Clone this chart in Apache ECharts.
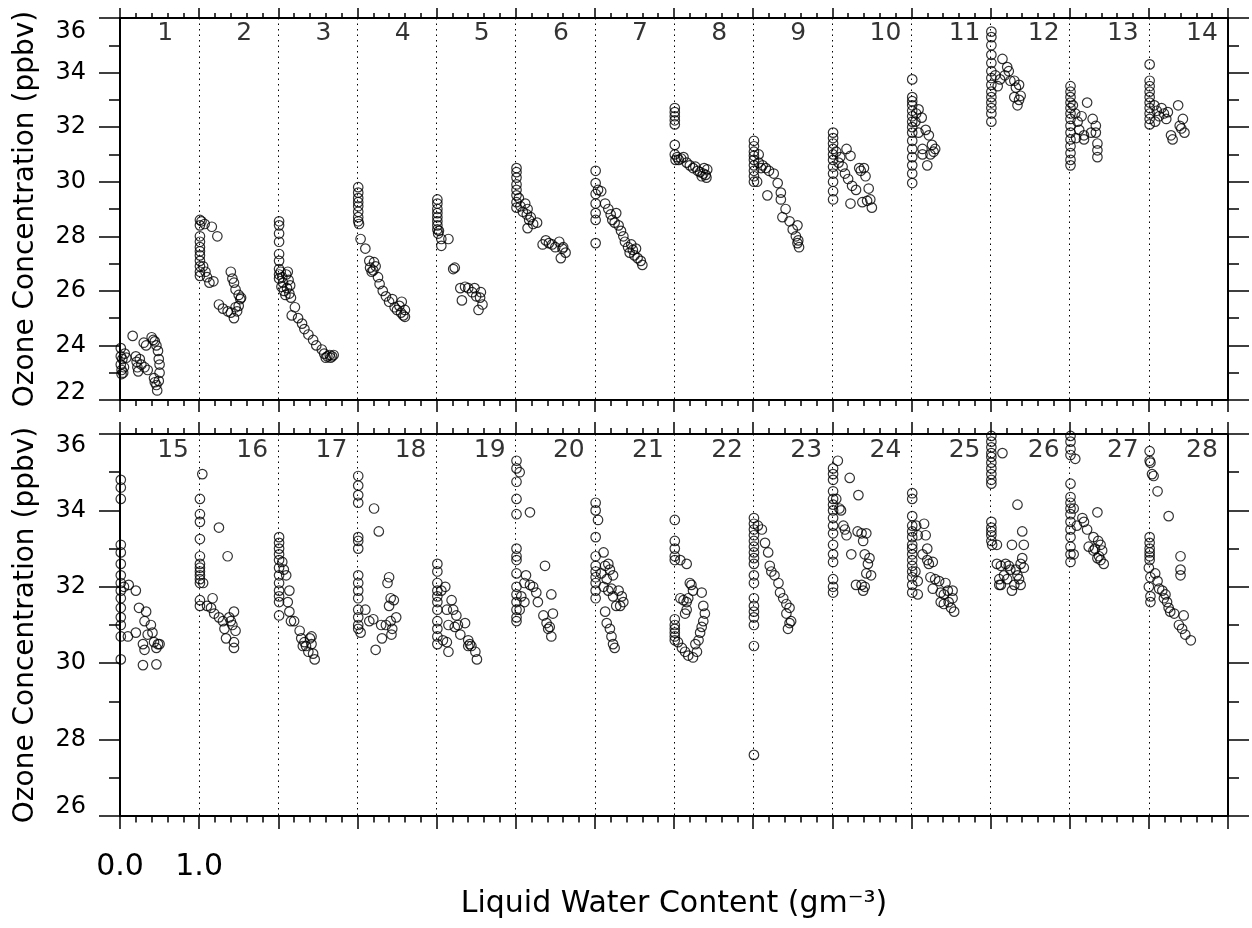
<!DOCTYPE html>
<html>
<head>
<meta charset="utf-8">
<script src="https://cdn.jsdelivr.net/npm/echarts@6.0.0/dist/echarts.min.js"></script>
<style>
  html, body { margin: 0; padding: 0; background: #fff; }
  #chart { width: 1252px; height: 928px; }
</style>
</head>
<body>
<div id="chart"></div>
<script>
// flight segment numbers shown at the top of each column
const topLabels = ['1', '2', '3', '4', '5', '6', '7', '8', '9', '10', '11', '12', '13', '14'];
const bottomLabels = ['15', '16', '17', '18', '19', '20', '21', '22', '23', '24', '25', '26', '27', '28'];

// y axis ranges (ppbv)
const topRange = [22, 36];
const bottomRange = [26, 36];

// each segment: [lwc offset in gm-3, ozone ppbv], one list per segment
const topSegments = [
  [[0.01,23.9],[0.01,23.6],[0.01,23.3],[0.02,23.1],[0.02,22.95],[0.04,23.0],[0.05,23.2],[0.03,23.5],[0.06,23.7],[0.08,23.55],
   [0.16,24.35],[0.2,23.6],[0.21,23.4],[0.22,23.2],[0.23,23.05],[0.25,23.5],[0.27,23.3],[0.3,24.1],[0.31,23.2],[0.33,24.0],
   [0.35,23.1],[0.4,24.3],[0.42,24.2],[0.44,24.15],[0.43,22.8],[0.44,22.65],[0.46,22.55],[0.47,22.35],[0.49,22.7],[0.5,23.0],
   [0.5,23.3],[0.49,23.5],[0.48,23.8],[0.46,24.0]],
  [[0.01,28.6],[0.01,28.4],[0.01,28.0],[0.01,27.8],[0.01,27.6],[0.01,27.45],[0.01,27.3],[0.01,27.1],[0.01,26.9],[0.01,26.7],
   [0.01,26.55],[0.03,28.55],[0.07,28.45],[0.16,28.35],[0.23,28.0],[0.05,26.9],[0.08,26.7],[0.1,26.5],[0.13,26.3],[0.18,26.35],
   [0.25,25.5],[0.3,25.35],[0.36,25.25],[0.4,25.2],[0.44,25.0],[0.4,26.7],[0.42,26.45],[0.44,26.3],[0.46,26.05],[0.5,25.85],
   [0.52,25.7],[0.5,25.45],[0.48,25.25],[0.46,25.4],[0.53,25.75]],
  [[0.01,28.55],[0.01,28.4],[0.01,28.1],[0.01,27.8],[0.01,27.35],[0.01,27.1],[0.01,26.8],[0.01,26.6],[0.01,26.45],
   [0.03,26.7],[0.05,26.5],[0.06,26.3],[0.04,26.15],[0.07,26.0],[0.09,25.85],[0.1,26.6],[0.12,26.7],[0.13,26.4],[0.11,26.1],
   [0.14,25.9],[0.16,25.75],[0.15,26.2],[0.21,25.4],[0.17,25.1],[0.25,25.0],[0.3,24.8],[0.33,24.6],[0.38,24.4],[0.44,24.2],
   [0.48,24.0],[0.55,23.85],[0.58,23.7],[0.62,23.6],[0.65,23.65],[0.68,23.6],[0.6,23.55],[0.7,23.65],[0.66,23.55]],
  [[0.01,29.8],[0.01,29.6],[0.01,29.4],[0.01,29.25],[0.01,29.1],[0.01,28.9],[0.01,28.7],[0.01,28.55],[0.02,28.45],
   [0.04,27.9],[0.1,27.55],[0.15,27.1],[0.21,27.05],[0.16,26.85],[0.18,26.7],[0.2,26.75],[0.23,26.9],[0.26,26.5],[0.28,26.25],
   [0.32,26.0],[0.36,25.8],[0.4,25.6],[0.44,25.7],[0.47,25.4],[0.5,25.3],[0.55,25.2],[0.58,25.1],[0.6,25.3],[0.56,25.6],
   [0.53,25.45],[0.6,25.05]],
  [[0.01,29.35],[0.01,29.2],[0.01,29.0],[0.01,28.85],[0.01,28.7],[0.01,28.55],[0.01,28.4],[0.01,28.25],[0.02,28.1],
   [0.06,27.9],[0.06,27.65],[0.15,27.9],[0.03,28.2],[0.23,26.85],[0.21,26.8],[0.3,26.1],[0.32,25.65],[0.36,26.15],[0.4,26.1],
   [0.45,25.95],[0.5,25.8],[0.55,25.75],[0.53,25.3],[0.58,25.5],[0.48,26.1],[0.56,25.95]],
  [[0.01,30.5],[0.01,30.35],[0.01,30.15],[0.01,29.9],[0.01,29.7],[0.01,29.5],[0.01,29.25],[0.01,29.05],
   [0.04,29.4],[0.06,29.1],[0.09,28.9],[0.12,29.2],[0.14,28.8],[0.15,29.0],[0.17,28.6],[0.19,28.7],[0.15,28.3],[0.22,28.45],
   [0.27,28.5],[0.34,27.7],[0.42,27.75],[0.5,27.6],[0.59,27.55],[0.57,27.2],[0.63,27.4],[0.38,27.85],[0.46,27.7],[0.55,27.8],
   [0.6,27.6]],
  [[0.01,30.4],[0.01,29.95],[0.01,29.55],[0.01,29.2],[0.01,28.85],[0.01,28.6],[0.01,27.75],
   [0.04,29.7],[0.08,29.65],[0.13,29.2],[0.17,29.0],[0.2,28.8],[0.22,28.6],[0.27,28.85],[0.3,28.4],[0.33,28.2],[0.36,28.0],
   [0.38,27.8],[0.42,27.6],[0.44,27.4],[0.48,27.5],[0.5,27.3],[0.54,27.2],[0.58,27.1],[0.6,26.95],[0.46,27.7],[0.52,27.55],
   [0.25,28.5]],
  [[0.01,32.7],[0.01,32.55],[0.01,32.4],[0.01,32.25],[0.01,32.1],[0.01,31.35],
   [0.01,31.0],[0.02,30.8],[0.04,30.9],[0.06,30.8],[0.09,30.85],[0.12,30.9],[0.16,30.7],[0.2,30.6],[0.24,30.5],[0.27,30.55],
   [0.3,30.4],[0.33,30.35],[0.37,30.3],[0.4,30.25],[0.42,30.45],[0.38,30.5],[0.35,30.2],[0.41,30.15]],
  [[0.01,31.5],[0.01,31.3],[0.01,31.1],[0.01,30.95],[0.01,30.8],[0.01,30.6],[0.01,30.4],[0.01,30.2],[0.01,30.0],
   [0.05,30.0],[0.07,31.0],[0.07,30.7],[0.1,30.5],[0.12,30.6],[0.16,30.5],[0.2,30.4],[0.26,30.3],[0.18,29.5],[0.31,29.95],
   [0.35,29.6],[0.35,29.35],[0.41,29.0],[0.37,28.7],[0.46,28.55],[0.5,28.25],[0.56,28.4],[0.54,28.0],[0.56,27.75],[0.58,27.6],
   [0.57,27.85]],
  [[0.01,31.8],[0.01,31.6],[0.01,31.4],[0.01,31.2],[0.01,31.0],[0.01,30.8],[0.01,30.55],[0.01,30.3],[0.01,30.0],[0.01,29.65],
   [0.01,29.35],[0.05,31.1],[0.08,30.7],[0.1,30.9],[0.13,30.55],[0.16,30.3],[0.18,31.2],[0.23,30.95],[0.2,30.1],[0.25,29.85],
   [0.23,29.2],[0.3,29.7],[0.34,30.5],[0.4,30.5],[0.42,30.2],[0.46,29.75],[0.38,29.25],[0.48,29.35],[0.5,29.05],[0.44,29.3],
   [0.36,30.4]],
  [[0.01,33.75],[0.01,33.1],[0.01,32.95],[0.01,32.8],[0.01,32.6],[0.01,32.4],[0.01,32.2],[0.01,32.0],[0.01,31.8],[0.01,31.5],
   [0.01,31.2],[0.01,30.9],[0.01,30.6],[0.01,30.3],[0.01,29.95],[0.09,32.65],[0.13,32.35],[0.18,31.9],[0.22,31.7],[0.26,31.35],
   [0.3,31.2],[0.14,31.2],[0.14,31.0],[0.2,30.6],[0.24,31.0],[0.28,31.1],[0.05,32.2],[0.06,32.5],[0.09,31.8]],
  [[0.01,35.5],[0.01,35.3],[0.01,35.0],[0.01,34.65],[0.01,34.35],[0.01,34.05],[0.01,33.8],[0.01,33.55],[0.01,33.3],[0.01,33.1],
   [0.01,32.9],[0.01,32.7],[0.01,32.5],[0.01,32.2],[0.06,33.9],[0.09,33.5],[0.15,34.5],[0.21,34.2],[0.23,34.05],[0.25,33.7],
   [0.3,33.7],[0.32,33.45],[0.36,33.55],[0.3,33.1],[0.36,33.0],[0.38,33.15],[0.34,32.8],[0.12,33.75],[0.18,33.9]],
  [[0.01,33.5],[0.01,33.3],[0.01,33.1],[0.01,32.9],[0.01,32.7],[0.01,32.5],[0.01,32.3],[0.01,32.05],[0.01,31.8],[0.01,31.55],
   [0.01,31.3],[0.01,31.05],[0.01,30.8],[0.01,30.6],[0.04,32.8],[0.07,32.5],[0.1,32.2],[0.12,31.9],[0.15,32.4],[0.18,31.7],
   [0.22,32.9],[0.29,32.3],[0.33,32.05],[0.27,31.8],[0.18,31.55],[0.33,31.8],[0.35,31.4],[0.35,31.15],[0.35,30.9],[0.08,31.6]],
  [[0.01,34.3],[0.01,33.7],[0.01,33.5],[0.01,33.3],[0.01,33.1],[0.01,32.9],[0.01,32.7],[0.01,32.5],[0.01,32.3],[0.01,32.1],
   [0.07,32.8],[0.1,32.6],[0.13,32.4],[0.16,32.7],[0.19,32.5],[0.22,32.3],[0.24,32.55],[0.08,32.2],[0.3,31.55],[0.28,31.7],
   [0.37,32.8],[0.43,32.3],[0.41,31.95],[0.45,31.8],[0.39,32.05]]
];

const bottomSegments = [
  [[0.01,34.8],[0.01,34.6],[0.01,34.3],[0.01,33.1],[0.01,32.9],[0.01,32.6],[0.01,32.3],[0.01,32.1],[0.01,31.9],[0.01,31.7],
   [0.01,31.45],[0.01,31.2],[0.01,31.0],[0.01,30.7],[0.01,30.1],[0.05,32.0],[0.11,32.05],[0.1,30.7],[0.2,31.9],[0.24,31.45],
   [0.2,30.8],[0.33,31.35],[0.29,30.5],[0.31,30.35],[0.31,31.1],[0.35,30.75],[0.39,31.0],[0.41,30.8],[0.43,30.55],[0.46,30.4],
   [0.48,30.5],[0.29,29.95],[0.46,29.97],[0.5,30.5]],
  [[0.01,34.3],[0.01,33.9],[0.01,33.7],[0.01,33.25],[0.01,32.8],[0.01,32.6],[0.01,32.5],[0.01,32.4],[0.01,32.3],[0.01,32.2],
   [0.01,32.1],[0.01,31.65],[0.01,31.5],[0.04,34.95],[0.05,32.1],[0.25,33.55],[0.36,32.8],[0.1,31.5],[0.17,31.7],[0.15,31.45],
   [0.19,31.3],[0.25,31.2],[0.3,31.1],[0.32,30.9],[0.34,30.65],[0.38,31.2],[0.42,31.0],[0.44,31.35],[0.44,30.55],[0.46,30.85],
   [0.44,30.4],[0.4,31.1]],
  [[0.01,33.3],[0.01,33.15],[0.01,33.0],[0.01,32.85],[0.01,32.7],[0.01,32.5],[0.01,32.3],[0.01,32.1],[0.01,31.9],[0.01,31.75],
   [0.01,31.6],[0.01,31.25],[0.05,32.65],[0.07,32.45],[0.1,32.3],[0.14,31.9],[0.12,31.6],[0.14,31.35],[0.16,31.1],[0.2,31.1],
   [0.27,30.85],[0.29,30.65],[0.33,30.55],[0.35,30.45],[0.4,30.65],[0.42,30.5],[0.44,30.25],[0.46,30.1],[0.42,30.7],[0.31,30.45],
   [0.38,30.3]],
  [[0.01,34.9],[0.01,34.65],[0.01,34.4],[0.01,34.2],[0.01,33.3],[0.01,33.2],[0.01,33.0],[0.01,32.3],[0.01,32.1],[0.01,31.9],
   [0.01,31.7],[0.01,31.4],[0.01,31.2],[0.01,31.0],[0.01,30.9],[0.04,30.8],[0.1,31.4],[0.15,31.1],[0.21,34.05],[0.23,30.35],
   [0.27,33.45],[0.31,30.65],[0.4,32.25],[0.38,32.1],[0.42,31.7],[0.46,31.65],[0.4,31.5],[0.36,31.0],[0.42,31.1],[0.49,31.2],
   [0.44,30.9],[0.43,30.75],[0.3,31.0],[0.2,31.15]],
  [[0.01,32.6],[0.01,32.4],[0.01,32.1],[0.01,31.9],[0.01,31.75],[0.01,31.6],[0.01,31.4],[0.01,31.1],[0.01,30.9],[0.01,30.7],
   [0.01,30.5],[0.06,31.9],[0.11,32.0],[0.13,31.4],[0.15,31.0],[0.08,30.6],[0.13,30.55],[0.15,30.3],[0.19,31.65],[0.21,31.4],
   [0.23,30.95],[0.25,31.25],[0.27,31.0],[0.3,30.75],[0.36,31.05],[0.4,30.6],[0.42,30.5],[0.44,30.45],[0.51,30.1],[0.4,30.45],
   [0.49,30.3]],
  [[0.01,35.3],[0.01,35.1],[0.01,34.75],[0.01,34.3],[0.01,33.9],[0.01,33.0],[0.01,32.8],[0.01,32.7],[0.01,32.35],[0.01,32.0],
   [0.01,31.8],[0.01,31.6],[0.01,31.4],[0.01,31.2],[0.01,31.1],[0.05,35.0],[0.18,33.95],[0.13,32.3],[0.11,32.1],[0.18,32.05],
   [0.22,32.0],[0.07,31.75],[0.11,31.6],[0.05,31.4],[0.26,31.85],[0.28,31.6],[0.37,32.55],[0.45,31.8],[0.35,31.25],[0.39,31.05],
   [0.43,30.95],[0.45,30.7],[0.47,31.3],[0.41,30.9]],
  [[0.01,34.2],[0.01,34.0],[0.01,33.3],[0.01,32.8],[0.01,32.55],[0.01,32.4],[0.01,32.25],[0.01,32.1],[0.01,31.9],[0.01,31.7],
   [0.04,33.75],[0.11,32.9],[0.08,32.35],[0.13,32.55],[0.17,32.6],[0.19,32.45],[0.15,32.2],[0.11,32.0],[0.17,31.9],[0.21,31.95],
   [0.23,31.75],[0.23,32.3],[0.3,31.9],[0.34,31.75],[0.36,31.6],[0.32,31.5],[0.27,31.5],[0.13,31.35],[0.15,31.05],[0.19,30.9],
   [0.21,30.7],[0.23,30.5],[0.25,30.4]],
  [[0.01,33.75],[0.01,33.2],[0.01,33.0],[0.01,32.8],[0.01,32.7],[0.01,31.15],[0.01,31.0],[0.01,30.9],[0.01,30.8],[0.01,30.7],
   [0.01,30.6],[0.08,32.7],[0.16,32.6],[0.08,31.7],[0.12,31.65],[0.16,31.6],[0.18,31.7],[0.2,32.1],[0.22,32.05],[0.16,31.4],
   [0.14,31.3],[0.24,31.9],[0.05,30.55],[0.1,30.4],[0.14,30.3],[0.18,30.2],[0.24,30.15],[0.27,30.5],[0.31,30.6],[0.29,30.3],
   [0.35,31.85],[0.37,31.5],[0.39,31.3],[0.37,31.1],[0.35,30.95],[0.33,30.8]],
  [[0.01,33.8],[0.01,33.65],[0.01,33.5],[0.01,33.35],[0.01,33.2],[0.01,33.05],[0.01,32.9],[0.01,32.75],[0.01,32.6],[0.01,32.3],
   [0.01,32.1],[0.01,31.7],[0.01,31.5],[0.01,31.35],[0.01,31.2],[0.01,31.0],[0.01,30.45],[0.01,27.6],[0.06,33.6],[0.11,33.5],
   [0.15,33.15],[0.19,32.9],[0.21,32.55],[0.23,32.4],[0.27,32.3],[0.32,32.1],[0.34,31.85],[0.38,31.7],[0.42,31.55],[0.46,31.45],
   [0.42,31.3],[0.46,31.05],[0.44,30.9],[0.48,31.1]],
  [[0.01,35.1],[0.01,34.95],[0.01,34.8],[0.01,34.5],[0.01,34.3],[0.01,34.15],[0.01,34.0],[0.01,33.8],[0.01,33.6],[0.01,33.4],
   [0.01,33.1],[0.01,32.85],[0.01,32.65],[0.01,32.2],[0.01,32.0],[0.01,31.85],[0.07,35.3],[0.05,34.3],[0.09,34.05],[0.11,34.0],
   [0.14,33.6],[0.18,33.35],[0.16,33.5],[0.22,34.85],[0.24,32.85],[0.33,34.4],[0.32,33.45],[0.37,33.4],[0.43,33.4],[0.39,33.2],
   [0.41,32.85],[0.47,32.75],[0.45,32.6],[0.43,32.35],[0.49,32.3],[0.3,32.05],[0.37,32.05],[0.41,32.0],[0.39,31.9]],
  [[0.01,34.45],[0.01,34.3],[0.01,33.85],[0.01,33.6],[0.01,33.45],[0.01,33.3],[0.01,33.1],[0.01,33.0],[0.01,32.85],[0.01,32.7],
   [0.01,32.55],[0.01,32.4],[0.01,32.25],[0.01,32.05],[0.01,31.85],[0.08,31.8],[0.06,33.6],[0.08,33.35],[0.05,32.4],[0.08,32.15],
   [0.16,33.65],[0.18,33.35],[0.14,32.85],[0.2,33.0],[0.2,32.7],[0.27,32.65],[0.22,32.6],[0.24,32.25],[0.3,32.2],[0.35,32.15],
   [0.27,31.95],[0.37,31.85],[0.43,32.1],[0.41,31.8],[0.46,31.9],[0.52,31.9],[0.37,31.6],[0.41,31.55],[0.47,31.6],[0.52,31.7],
   [0.54,31.35],[0.5,31.45]],
  [[0.01,35.95],[0.01,35.8],[0.01,35.65],[0.01,35.5],[0.01,35.4],[0.01,35.25],[0.01,35.1],[0.01,34.95],[0.01,34.8],[0.01,34.7],
   [0.01,33.7],[0.01,33.55],[0.01,33.45],[0.01,33.35],[0.01,33.2],[0.02,33.1],[0.08,33.1],[0.15,35.5],[0.08,32.6],[0.13,32.55],
   [0.19,32.6],[0.23,32.55],[0.17,32.3],[0.11,32.2],[0.13,32.05],[0.27,31.9],[0.3,32.05],[0.34,32.3],[0.36,32.2],[0.38,32.05],
   [0.4,32.75],[0.42,32.5],[0.38,32.6],[0.25,32.45],[0.32,32.45],[0.21,32.2],[0.27,33.1],[0.42,33.1],[0.4,33.45],[0.34,34.15],
   [0.11,32.05]],
  [[0.01,35.95],[0.01,35.8],[0.01,35.6],[0.01,35.45],[0.01,34.7],[0.01,34.35],[0.01,34.2],[0.01,34.05],[0.01,33.9],[0.01,33.7],
   [0.01,33.5],[0.01,33.3],[0.01,33.05],[0.01,32.85],[0.01,32.65],[0.07,35.35],[0.05,34.05],[0.05,32.85],[0.09,33.6],[0.16,33.8],
   [0.18,33.7],[0.22,33.5],[0.35,33.95],[0.24,33.05],[0.3,33.3],[0.32,33.0],[0.36,33.2],[0.39,33.1],[0.41,32.95],[0.3,32.95],
   [0.35,32.75],[0.39,32.7],[0.43,32.6],[0.37,32.8]],
  [[0.01,35.55],[0.01,35.3],[0.01,33.3],[0.01,33.15],[0.01,33.0],[0.01,32.9],[0.01,32.8],[0.01,32.7],[0.02,35.25],[0.04,34.95],
   [0.06,34.9],[0.11,34.5],[0.25,33.85],[0.0,32.5],[0.02,32.25],[0.0,32.0],[0.02,31.75],[0.02,31.6],[0.08,32.35],[0.11,32.15],
   [0.13,31.95],[0.17,31.9],[0.21,31.8],[0.19,31.7],[0.23,31.6],[0.25,31.45],[0.27,31.35],[0.32,31.3],[0.4,32.8],[0.4,32.45],
   [0.4,32.3],[0.44,31.25],[0.38,31.0],[0.42,30.9],[0.46,30.75],[0.53,30.6]]
];

// segment k starts at lwc = k on the shared axis
function flatten(segs) {
  const out = [];
  segs.forEach((seg, k) => {
    seg.forEach(p => out.push([k + p[0], p[1]]));
  });
  return out;
}

function labelPoints(labels, y) {
  return labels.map((t, k) => ({ name: t, value: [k + 0.47, y] }));
}

const FONT = 'DejaVu Sans';
const black = '#000';

function xAxis(gridIndex, position, tickLen, withGrid, withLabels) {
  return {
    type: 'value', gridIndex: gridIndex, position: position,
    min: 0, max: 14, interval: 1,
    axisLine: { onZero: false, lineStyle: { color: black, width: 2 } },
    axisTick: { inside: false, length: tickLen, lineStyle: { color: black, width: 1.5 } },
    minorTick: { show: true, splitNumber: 5, length: tickLen / 2, lineStyle: { color: black, width: 1.5 } },
    axisLabel: {
      show: withLabels, margin: 36, color: black, fontFamily: FONT, fontSize: 30,
      formatter: v => (v <= 1 ? v.toFixed(1) : '')
    },
    splitLine: { show: withGrid, lineStyle: { color: black, width: 1, type: [1.5, 4] } }
  };
}

// end labels sit a little inside the frame, as in the original plot
function yAxis(gridIndex, position, range, withLabels, endPad) {
  return {
    type: 'value', gridIndex: gridIndex, position: position,
    min: range[0], max: range[1], interval: 2,
    name: withLabels ? 'Ozone Concentration (ppbv)' : '',
    nameLocation: 'middle', nameGap: 80, nameRotate: 90,
    nameTextStyle: { color: black, fontFamily: FONT, fontSize: 28 },
    axisLine: { onZero: false, lineStyle: { color: black, width: 2 } },
    axisTick: { inside: false, length: 21, lineStyle: { color: black, width: 1.5 } },
    minorTick: { show: true, splitNumber: 2, length: 11, lineStyle: { color: black, width: 1.5 } },
    axisLabel: {
      show: withLabels, margin: 34, color: black, fontFamily: FONT, fontSize: 24,
      formatter: v => (v === range[1] ? '{hi|' + v + '}' : v === range[0] ? '{lo|' + v + '}' : String(v)),
      rich: {
        hi: { fontFamily: FONT, fontSize: 24, color: black, padding: [endPad[0], 0, 0, 0] },
        lo: { fontFamily: FONT, fontSize: 24, color: black, padding: [0, 0, endPad[1], 0] }
      }
    },
    splitLine: { show: false }
  };
}

const circleStyle = { color: 'rgba(0,0,0,0)', borderColor: black, borderWidth: 1.2 };

function scatter(data, idx) {
  return {
    type: 'scatter', xAxisIndex: idx, yAxisIndex: idx,
    symbol: 'circle', symbolSize: 9.5, itemStyle: circleStyle,
    data: data, silent: true, animation: false
  };
}

function numbers(data, idx) {
  return {
    type: 'scatter', xAxisIndex: idx, yAxisIndex: idx,
    symbolSize: 0, silent: true, animation: false,
    label: {
      show: true, position: 'inside', align: 'left', verticalAlign: 'middle',
      formatter: '{b}', color: black, fontFamily: FONT, fontSize: 25
    },
    data: data
  };
}

const chart = echarts.init(document.getElementById('chart'));

const option = {
  backgroundColor: '#fff',
  animation: false,
  grid: [
    { left: 120, top: 18, width: 1108, height: 382 },
    { left: 120, top: 434, width: 1108, height: 382 }
  ],
  xAxis: [
    xAxis(0, 'bottom', 12, true, false),
    xAxis(0, 'top', 10, false, false),
    xAxis(1, 'bottom', 13, true, true),
    xAxis(1, 'top', 12, false, false)
  ],
  yAxis: [
    yAxis(0, 'left', topRange, true, [28, 14]),
    yAxis(0, 'right', topRange, false, [0, 0]),
    yAxis(1, 'left', bottomRange, true, [24, 18]),
    yAxis(1, 'right', bottomRange, false, [0, 0])
  ],
  graphic: [
    {
      type: 'text', x: 674, y: 904,
      style: {
        text: 'Liquid Water Content (gm\u207B\u00B3)',
        font: '30px "DejaVu Sans"', fill: black, align: 'center', verticalAlign: 'middle'
      }
    }
  ],
  series: [
    scatter(flatten(topSegments), 0),
    numbers(labelPoints(topLabels, 35.45), 0),
    scatter(flatten(bottomSegments), 2),
    numbers(labelPoints(bottomLabels, 35.58), 2)
  ]
};

chart.setOption(option);
</script>
</body>
</html>
